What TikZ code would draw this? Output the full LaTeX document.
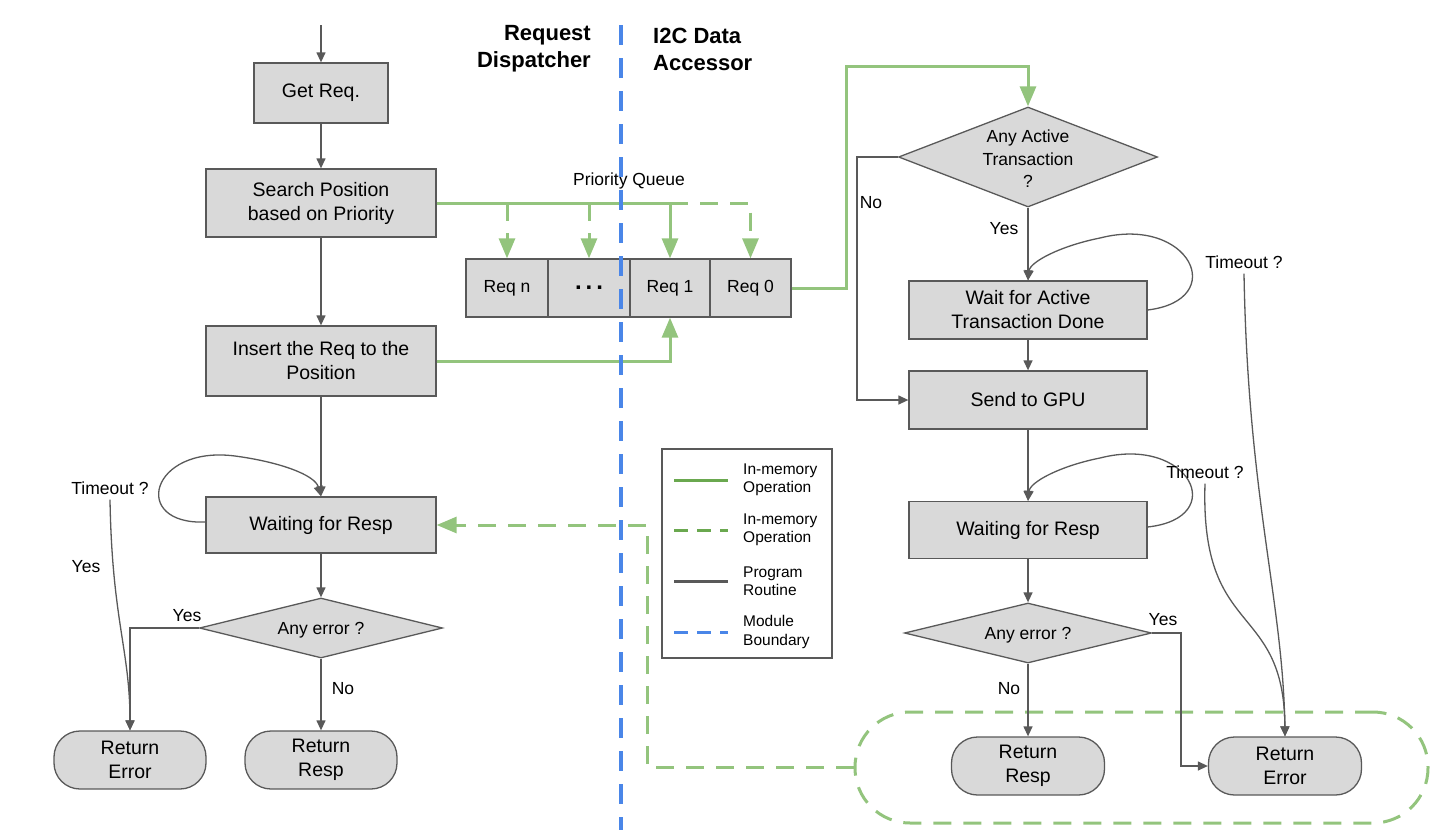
\documentclass[tikz,border=0pt]{standalone}
\usepackage{fontspec}
\setmainfont{Liberation Sans}
\usetikzlibrary{arrows.meta,shapes.geometric}
\definecolor{gline}{HTML}{595959}
\definecolor{bfill}{HTML}{D9D9D9}
\definecolor{grn}{HTML}{93C47D}
\definecolor{grnd}{HTML}{6AA84F}
\definecolor{blu}{HTML}{4A86E8}
\begin{document}
\begin{tikzpicture}[x=1pt,y=-1pt,
 box/.style={draw=gline,fill=bfill,line width=1.3pt,inner sep=0pt,align=center,font=\fontsize{19.5}{24}\selectfont},
 term/.style={box,rounded corners=26pt,minimum width=153pt,minimum height=58pt},
 qbox/.style={box,minimum height=58pt,font=\fontsize{17.5}{21}\selectfont},
 dia/.style={draw=gline,fill=bfill,line width=1.3pt,diamond,inner sep=0pt},
 dtxt/.style={align=center,inner sep=0pt,font=\fontsize{17.5}{22.5}\selectfont},
 lbl/.style={inner sep=0pt,font=\fontsize{17.5}{21}\selectfont},
 legt/.style={inner sep=0pt,anchor=west,align=left,font=\fontsize{15.5}{18.5}\selectfont},
 arr/.style={draw=gline,line width=1.3pt,-{Triangle[length=10pt,width=9pt]}},
 garr/.style={draw=grn,line width=3pt,-{Triangle[length=20pt,width=16pt]}},
 gdash/.style={draw=grn,line width=3pt,dash pattern=on 18pt off 12pt},
 gdarr/.style={gdash,-{Triangle[length=20pt,width=16pt]}},
 hdr/.style={inner sep=0pt,font=\bfseries\fontsize{22}{27}\selectfont}
]
\useasboundingbox (0,0) rectangle (1446,830);

% headers
\node[hdr,align=right,anchor=east] (h1) at (591,49) {Request\\Dispatcher};
\node[hdr,align=left,anchor=west] (h2) at (653,49) {I2C Data\\Accessor};

% left column
\coordinate (start) at (321,25);
\node[box,minimum width=134pt,minimum height=60pt] (get) at (321,93) {Get Req.};
\node[box,minimum width=230pt,minimum height=68pt] (srch) at (321,203) {Search Position\\based on Priority};
\node[box,minimum width=230pt,minimum height=70pt] (ins) at (321,361) {Insert the Req to the\\Position};
\node[box,minimum width=230pt,minimum height=56pt] (wl) at (321,525) {Waiting for Resp};
\node[dia,minimum width=243pt,minimum height=60pt] (el) at (321,628) {};
\node[dtxt] (elt) at (321,630) {Any error ?};
\node[term,minimum width=152pt] (rel) at (130,760) {Return\\Error};
\node[term,minimum width=152pt] (rrl) at (321,760) {Return\\Resp};

\draw[arr] (start) -- (get);
\draw[arr] (get) -- (srch);
\draw[arr] (srch) -- (ins);
\draw[arr] (ins) -- (wl);
\draw[arr] (wl) -- (el);
\draw[arr] (el) -- (rrl);
\node[lbl] (nol) at (343,689) {No};
\draw[arr] (el.west) -| (rel.north);
\node[lbl] (yesl) at (187,616) {Yes};
\node[lbl] (tol) at (110,488) {Timeout ?};
\draw[arr] ([yshift=-5pt]tol.south) .. controls (112,620) and (130,650) .. (rel.north);
\node[lbl] (yesl2) at (86,567) {Yes};
\draw[arr] ([yshift=3pt]wl.west) .. controls (130,525) and (150,445) .. (235,456) .. controls (280,462) and (315,475) .. (wl.north);

% priority queue
\node[lbl] (pq) at (629,181) {Priority Queue};
\node[qbox,minimum width=82pt] (qn) at (507,288) {Req n};
\node[qbox,minimum width=82pt] (qd) at (589,288) {\bfseries\fontsize{24}{24}\selectfont .\hspace{4pt}.\hspace{4pt}.};
\node[qbox,minimum width=80pt] (q1) at (670,288) {Req 1};
\node[qbox,minimum width=81pt] (q0) at (750.5,288) {Req 0};

\draw[garr] (srch.east) -| (q1.north);
\draw[gdarr] (srch.east -| qn.north) -- (qn.north);
\draw[gdarr] (srch.east -| qd.north) -- (qd.north);
\draw[gdarr] (srch.east -| q1.north) -| (q0.north);
\draw[garr] (ins.east) -| (q1.south);

% right column
\node[dia,minimum width=259pt,minimum height=100pt] (act) at (1028,157) {};
\node[dtxt] (actt) at (1028,159) {Any Active\\Transaction\\?};
\node[box,minimum width=238pt,minimum height=58pt] (wait) at (1028,310) {Wait for Active\\Transaction Done};
\node[box,minimum width=238pt,minimum height=58pt] (gpu) at (1028,400) {Send to GPU};
\node[box,minimum width=238pt,minimum height=57pt] (wr) at (1028,530) {Waiting for Resp};
\node[dia,minimum width=247pt,minimum height=60pt] (er) at (1028,633) {};
\node[dtxt] (ert) at (1028,635) {Any error ?};

% group outline
\node[draw=grn,line width=3pt,dash pattern=on 18pt off 12pt,rounded corners=55pt,minimum width=573pt,minimum height=111pt] (grp) at (1141.5,767.5) {};
\node[term] (rrr) at (1028,766) {Return\\Resp};
\node[term] (rer) at (1285,766) {Return\\Error};

\coordinate (c1) at (846,66);
\draw[garr] (q0.east) -| (c1) -| (act.north);

\coordinate (c2) at (857,157);
\draw[arr] (act.west) -- (c2) |- (gpu.west);
\node[lbl] (nor) at (871,203) {No};
\draw[arr] (act) -- (wait);
\node[lbl] (yesr) at (1004,229) {Yes};
\draw[arr] (wait) -- (gpu);
\draw[arr] (gpu) -- (wr);
\draw[arr] (wr) -- (er);
\draw[arr] (er) -- (rrr);
\node[lbl] (nor2) at (1009,689) {No};
\coordinate (c4) at (1181,633);
\draw[arr] (er.east) -- (c4) |- (rer.west);
\node[lbl] (yesr2) at (1163,620) {Yes};

\draw[arr] (wait.east) .. controls (1230,300) and (1190,215) .. (1100,238) .. controls (1060,246) and (1030,262) .. (wait.north);
\draw[arr] ([yshift=3pt]wr.east) .. controls (1230,518) and (1190,435) .. (1100,458) .. controls (1060,466) and (1030,482) .. (wr.north);

\node[lbl] (to1) at (1244,262) {Timeout ?};
\draw[arr] ([yshift=-5pt]to1.south) .. controls (1248,500) and (1283,600) .. (rer.north);
\node[lbl] (to2) at (1205,472) {Timeout ?};
\draw[arr] ([yshift=-5pt]to2.south) .. controls (1200,640) and (1284,600) .. (rer.north);

% dashed return path
\coordinate (c3) at (647,525);
\draw[gdarr] (grp.west) -| (c3) -- (wl.east);

% legend
\node[draw=gline,fill=white,line width=1.3pt,minimum width=170pt,minimum height=209pt] (leg) at (747,553.5) {};
\coordinate (l1a) at (674,480); \coordinate (l1b) at (728,480);
\coordinate (l2a) at (674,530); \coordinate (l2b) at (728,530);
\coordinate (l3a) at (674,581); \coordinate (l3b) at (728,581);
\coordinate (l4a) at (674,632); \coordinate (l4b) at (728,632);
\draw[draw=grnd,line width=3pt] (l1a) -- (l1b);
\draw[draw=grnd,line width=3pt,dash pattern=on 14pt off 9pt] (l2a) -- (l2b);
\draw[draw=gline,line width=3pt] (l3a) -- (l3b);
\draw[draw=blu,line width=3pt,dash pattern=on 14pt off 9pt] (l4a) -- (l4b);
\node[legt] (lt1) at (743,480) {In-memory\\Operation};
\node[legt] (lt2) at (743,530) {In-memory\\Operation};
\node[legt] (lt3) at (743,581) {Program\\Routine};
\node[legt] (lt4) at (743,632) {Module\\Boundary};

% module boundary
\coordinate (b1) at (621,25);
\coordinate (b2) at (621,830);
\draw[draw=blu,line width=4pt,dash pattern=on 20pt off 13pt] (b1) -- (b2);
\end{tikzpicture}
\end{document}
